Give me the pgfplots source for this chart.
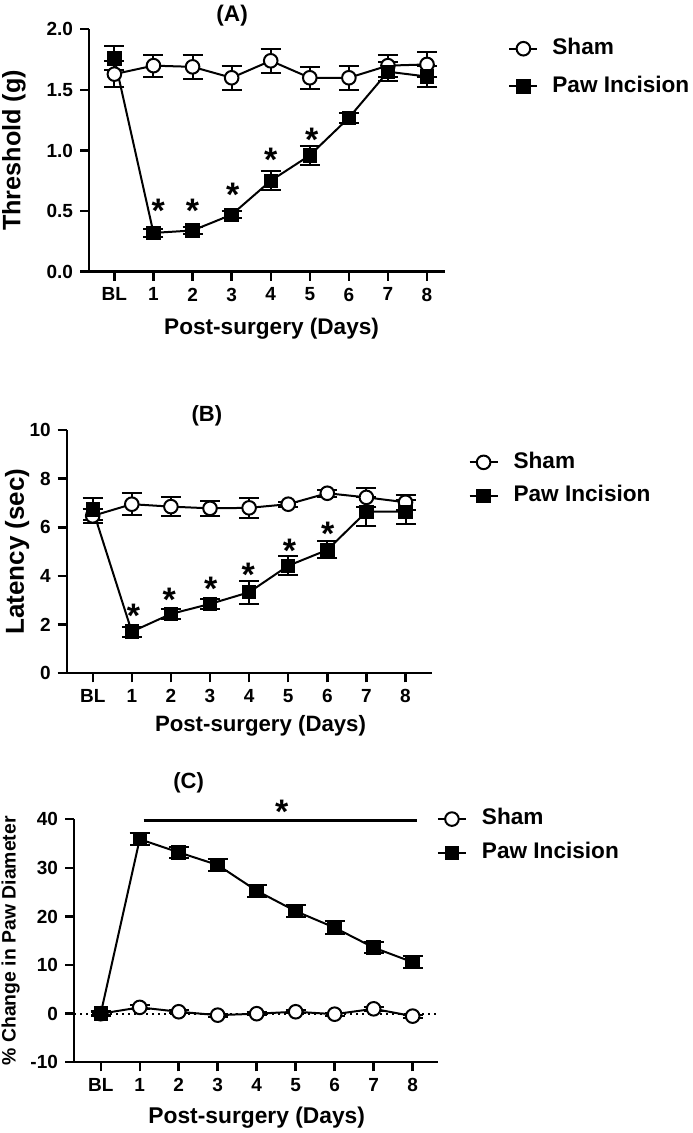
\documentclass[border=0pt]{standalone}
\usepackage{fontspec}
\setmainfont{Liberation Sans}
\usepackage{pgfplots}
\pgfplotsset{compat=1.18}
\pgfplotsset{
  myax/.style={
    scale only axis, clip=false,
    axis x line*=bottom, axis y line*=left,
    axis line style={line width=1.2pt, black},
    tick style={line width=1.2pt, black},
    tick align=outside, major tick length=4.5pt,
    xtick={0,...,8}, xticklabels={BL,1,2,3,4,5,6,7,8},
    ticklabel style={font=\fontsize{9.5}{10}\selectfont\bfseries},
    legend cell align=left,
    legend image code/.code={\draw[mark repeat=2,mark phase=2] plot coordinates {(0pt,0pt)(7pt,0pt)(14pt,0pt)};},
  },
  shamst/.style={black, line width=1pt, mark=*, mark size=3.4pt, mark options={fill=white, draw=black, line width=1pt},
    error bars/.cd, y dir=both, y explicit, error bar style={line width=1pt, black}, error mark options={rotate=90, line width=1pt, mark size=5pt, black}},
  pawst/.style={black, line width=1pt, mark=square*, mark size=3.3pt, mark options={fill=black, draw=black, line width=0.6pt},
    error bars/.cd, y dir=both, y explicit, error bar style={line width=1pt, black}, error mark options={rotate=90, line width=1pt, mark size=5pt, black}},
  ast/.style={draw=none, mark=none, forget plot, nodes near coords={\textbf{*}},
    every node near coord/.style={anchor=center, yshift=-3.5pt, font=\fontsize{17}{17}\selectfont\bfseries}},
}
\begin{document}
\begin{tikzpicture}
\useasboundingbox (0,0) rectangle (346pt,566.5pt);
% ---------------- (A)
\begin{axis}[myax, at={(44.5pt,430.65pt)}, anchor=south west,
  width=178pt, height=121.2pt,
  xmin=-0.65, xmax=8.46, ymin=0, ymax=2,
  ytick={0,0.5,1,1.5,2}, yticklabels={0.0,0.5,1.0,1.5,2.0},
  title={(A)}, title style={at={(axis description cs:0.402,1.055)}, anchor=center, yshift=-6pt, font=\fontsize{11.3}{13}\selectfont\bfseries},
  xlabel={Post-surgery (Days)}, xlabel style={at={(axis description cs:0.513,-0.236)}, anchor=center, font=\fontsize{11.3}{13}\selectfont\bfseries},
  ylabel={Threshold (g)}, ylabel style={at={(axis description cs:-0.211,0.5)}, anchor=center, font=\fontsize{12.6}{14}\selectfont\bfseries},
  legend style={at={(1.177,0.966)}, anchor=north west, draw=none, fill=none, inner sep=0pt,
    font=\fontsize{11.3}{13}\selectfont\bfseries, row sep=8pt,
    nodes={inner sep=0pt, text height=8.3pt, text depth=2.5pt},
    /tikz/every odd column/.append style={column sep=7pt}},
]
\addplot[shamst] coordinates {(0,1.63)+-(0,0.11) (1,1.70)+-(0,0.09) (2,1.69)+-(0,0.10) (3,1.60)+-(0,0.10) (4,1.74)+-(0,0.10) (5,1.60)+-(0,0.09) (6,1.60)+-(0,0.10) (7,1.70)+-(0,0.09) (8,1.71)+-(0,0.10)};
\addlegendentry{Sham}
\addplot[pawst] coordinates {(0,1.76)+-(0,0.10) (1,0.32)+-(0,0.03) (2,0.34)+-(0,0.03) (3,0.47)+-(0,0.03) (4,0.75)+-(0,0.08) (5,0.96)+-(0,0.08) (6,1.27)+-(0,0.04) (7,1.65)+-(0,0.08) (8,1.61)+-(0,0.09)};
\addlegendentry{Paw Incision}
\addplot[ast] coordinates {(1.12,0.561) (2,0.556) (3.03,0.688) (4,0.977) (5.05,1.147)};
\end{axis}
% ---------------- (B)
\begin{axis}[myax, at={(33.35pt,229.85pt)}, anchor=south west,
  width=182.5pt, height=121.65pt,
  xmin=-0.665, xmax=8.67, ymin=0, ymax=10,
  ytick={0,2,4,6,8,10}, yticklabels={0,2,4,6,8,10},
  title={(B)}, title style={at={(axis description cs:0.384,1.058)}, anchor=center, yshift=-6pt, font=\fontsize{11}{13}\selectfont\bfseries},
  xlabel={Post-surgery (Days)}, xlabel style={at={(axis description cs:0.531,-0.217)}, anchor=center, font=\fontsize{11.1}{13}\selectfont\bfseries},
  ylabel={Latency (sec)}, ylabel style={at={(axis description cs:-0.136,0.5)}, anchor=center, font=\fontsize{13}{14}\selectfont\bfseries},
  legend style={at={(1.100,0.913)}, anchor=north west, draw=none, fill=none, inner sep=0pt,
    font=\fontsize{11.3}{13}\selectfont\bfseries, row sep=6pt,
    nodes={inner sep=0pt, text height=8.3pt, text depth=2.5pt},
    /tikz/every odd column/.append style={column sep=7.5pt}},
]
\addplot[shamst] coordinates {(0,6.47)+-(0,0.30) (1,6.95)+-(0,0.45) (2,6.85)+-(0,0.40) (3,6.78)+-(0,0.30) (4,6.80)+-(0,0.40) (5,6.95)+-(0,0.10) (6,7.40)+-(0,0.15) (7,7.23)+-(0,0.40) (8,7.03)+-(0,0.30)};
\addlegendentry{Sham}
\addplot[pawst] coordinates {(0,6.74)+-(0,0.45) (1,1.71)+-(0,0.20) (2,2.44)+-(0,0.20) (3,2.85)+-(0,0.20) (4,3.33)+-(0,0.47) (5,4.42)+-(0,0.40) (6,5.07)+-(0,0.35) (7,6.64)+-(0,0.60) (8,6.64)+-(0,0.50)};
\addlegendentry{Paw Incision}
\addplot[ast] coordinates {(1.04,2.63) (1.96,3.29) (3.02,3.74) (3.98,4.32) (5.03,5.34) (6.01,6.03)};
\end{axis}
% ---------------- (C)
\begin{axis}[myax, at={(37pt,35.35pt)}, anchor=south west,
  width=182pt, height=121.5pt,
  xmin=-0.685, xmax=8.65, ymin=-10, ymax=40,
  ytick={-10,0,10,20,30,40}, yticklabels={-10,0,10,20,30,40},
  title={(C)}, title style={at={(axis description cs:0.315,1.149)}, anchor=center, yshift=-6pt, font=\fontsize{11}{13}\selectfont\bfseries},
  xlabel={Post-surgery (Days)}, xlabel style={at={(axis description cs:0.502,-0.229)}, anchor=center, font=\fontsize{11.4}{13}\selectfont\bfseries},
  ylabel={\% Change in Paw Diameter}, ylabel style={at={(axis description cs:-0.174,0.5)}, anchor=center, font=\fontsize{9.7}{11}\selectfont\bfseries},
  legend style={at={(0.996,1.047)}, anchor=north west, draw=none, fill=none, inner sep=0pt,
    font=\fontsize{11.3}{13}\selectfont\bfseries, row sep=6.2pt,
    nodes={inner sep=0pt, text height=8.3pt, text depth=2.5pt},
    /tikz/every odd column/.append style={column sep=7.5pt}},
]
\addplot[black, line width=1pt, dash pattern=on 1pt off 2pt, forget plot] coordinates {(-0.685,0) (8.65,0)};
\addplot[shamst] coordinates {(0,0)+-(0,0.3) (1,1.3)+-(0,0.4) (2,0.4)+-(0,0.3) (3,-0.3)+-(0,0.3) (4,0)+-(0,0.3) (5,0.4)+-(0,0.3) (6,-0.1)+-(0,0.3) (7,1.0)+-(0,0.4) (8,-0.5)+-(0,0.3)};
\addlegendentry{Sham}
\addplot[pawst] coordinates {(0,0)+-(0,0.5) (1,35.9)+-(0,1.2) (2,33.2)+-(0,1.2) (3,30.6)+-(0,1.2) (4,25.3)+-(0,1.2) (5,21.1)+-(0,1.2) (6,17.7)+-(0,1.3) (7,13.6)+-(0,1.2) (8,10.6)+-(0,1.2)};
\addlegendentry{Paw Incision}
\addplot[black, line width=1.5pt, forget plot] coordinates {(1.1,39.8) (8.1,39.8)};
\addplot[ast] coordinates {(4.64,42.9)};
\end{axis}
\end{tikzpicture}
\end{document}
